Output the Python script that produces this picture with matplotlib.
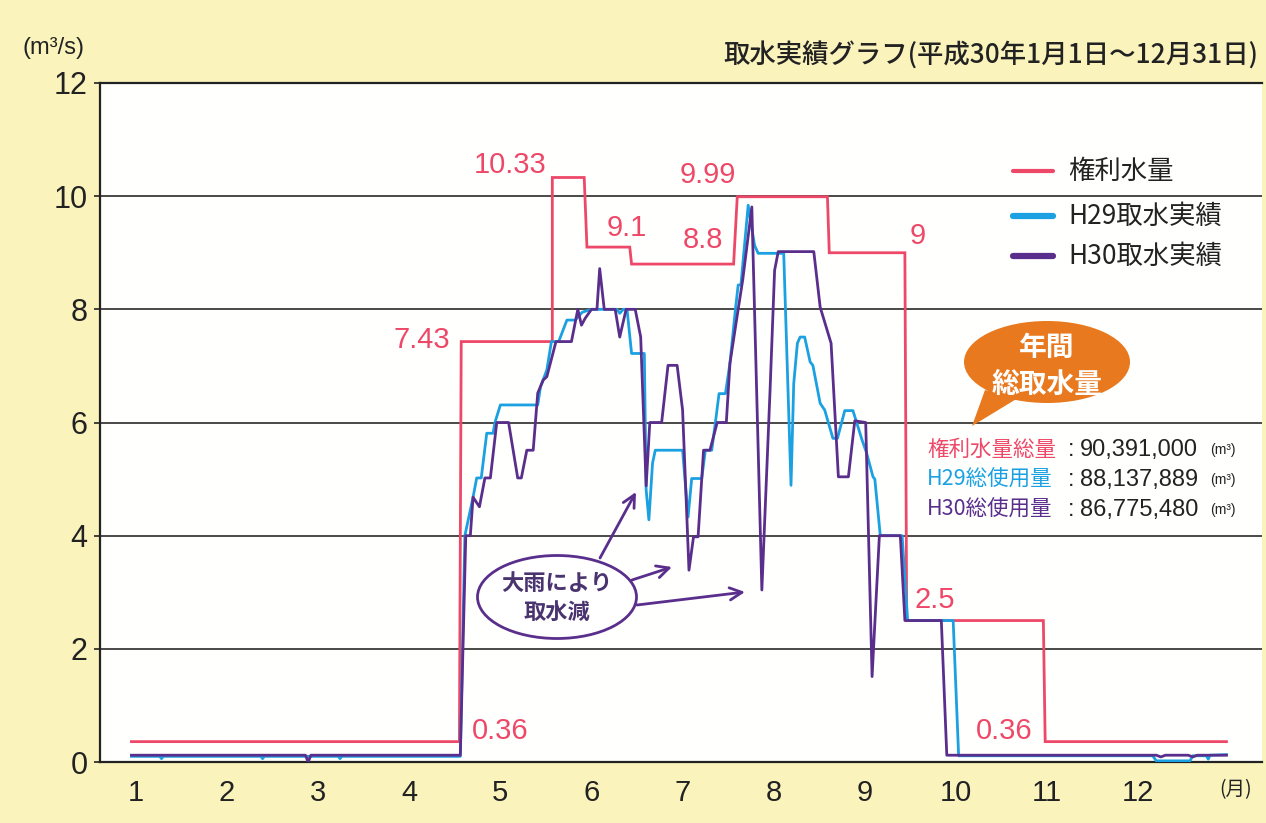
import matplotlib
matplotlib.use("Agg")
import matplotlib.pyplot as plt
from matplotlib.patches import Ellipse, Polygon
from matplotlib.lines import Line2D

# ---------------- data (x in month units: 1 = Jan 1, 13 = end of Dec) ----------------
months = list(range(1, 13))
y_ticks = [0, 2, 4, 6, 8, 10, 12]

rights_x = [0.95, 4.55, 4.57, 5.57, 5.57, 5.92, 5.95, 6.42, 6.44, 7.56, 7.60, 8.59, 8.61, 9.44, 9.46, 10.96, 10.98, 12.97]
rights_y = [0.36, 0.36, 7.43, 7.43, 10.33, 10.33, 9.1, 9.1, 8.8, 8.8, 9.99, 9.99, 9.0, 9.0, 2.5, 2.5, 0.36, 0.36]

h29_x = [0.95, 1.26, 1.28, 1.30, 2.37, 2.39, 2.41, 3.22, 3.24, 3.26, 4.56, 4.61, 4.70, 4.74, 4.79, 4.85, 4.92,
         4.94, 5.00, 5.41, 5.44, 5.51, 5.56, 5.64, 5.73, 5.82, 5.90, 6.00, 6.28, 6.31, 6.35, 6.39, 6.44, 6.58,
         6.60, 6.63, 6.67, 6.70, 7.00, 7.06, 7.10, 7.21, 7.25, 7.32, 7.36, 7.40, 7.47, 7.52, 7.58, 7.61, 7.64,
         7.72, 7.79, 7.83, 8.11, 8.19, 8.22, 8.26, 8.29, 8.34, 8.40, 8.43, 8.51, 8.56, 8.65, 8.70, 8.78, 8.87,
         8.97, 9.02, 9.09, 9.11, 9.17, 9.41, 9.47, 9.97, 10.03, 12.16, 12.20, 12.57, 12.60, 12.75, 12.77, 12.79, 12.97]
h29_y = [0.10, 0.10, 0.06, 0.10, 0.10, 0.06, 0.10, 0.10, 0.06, 0.10, 0.10, 4.0, 4.68, 5.02, 5.02, 5.81, 5.81,
         6.0, 6.31, 6.31, 6.63, 6.93, 7.43, 7.43, 7.81, 7.81, 7.95, 8.0, 8.0, 7.93, 8.0, 8.0, 7.22, 7.22,
         4.81, 4.28, 5.28, 5.51, 5.51, 4.33, 5.01, 5.01, 5.51, 5.51, 6.0, 6.51, 6.51, 7.05, 8.0, 8.43, 8.43,
         9.84, 9.13, 8.99, 8.99, 4.89, 6.69, 7.40, 7.51, 7.51, 7.07, 7.01, 6.34, 6.22, 5.72, 5.72, 6.21, 6.21,
         5.69, 5.46, 5.04, 5.0, 4.0, 4.0, 2.5, 2.5, 0.11, 0.11, 0.02, 0.02, 0.11, 0.11, 0.05, 0.12, 0.13]

h30_x = [0.95, 2.86, 2.89, 2.92, 4.56, 4.62, 4.67, 4.70, 4.77, 4.83, 4.89, 4.96, 5.09, 5.19, 5.23, 5.29, 5.36,
         5.41, 5.47, 5.51, 5.61, 5.78, 5.85, 5.89, 5.93, 6.00, 6.06, 6.09, 6.14, 6.26, 6.31, 6.38, 6.48, 6.54,
         6.60, 6.64, 6.77, 6.84, 6.94, 7.00, 7.07, 7.12, 7.17, 7.23, 7.30, 7.38, 7.48, 7.52, 7.61, 7.66, 7.76,
         7.87, 7.96, 8.01, 8.05, 8.44, 8.51, 8.63, 8.71, 8.82, 8.89, 9.01, 9.08, 9.16, 9.39, 9.44, 9.84, 9.90,
         12.20, 12.25, 12.30, 12.55, 12.60, 12.65, 12.97]
h30_y = [0.12, 0.12, 0.0, 0.12, 0.12, 4.0, 4.0, 4.68, 4.51, 5.02, 5.02, 6.0, 6.0, 5.02, 5.02, 5.51, 5.51,
         6.52, 6.75, 6.81, 7.43, 7.43, 8.0, 7.72, 7.84, 8.0, 8.0, 8.72, 8.0, 8.0, 7.51, 8.0, 8.0, 7.51,
         4.88, 6.0, 6.0, 7.01, 7.01, 6.22, 3.39, 3.98, 3.98, 5.51, 5.51, 6.0, 6.0, 7.05, 8.0, 8.52, 9.81,
         3.04, 6.57, 8.69, 9.02, 9.02, 8.04, 7.40, 5.04, 5.04, 6.03, 6.0, 1.51, 4.0, 4.0, 2.5, 2.5, 0.12,
         0.12, 0.09, 0.12, 0.12, 0.09, 0.12, 0.12]

rights_labels = ["7.43", "10.33", "9.1", "8.8", "9.99", "9", "2.5", "0.36", "0.36"]
rights_label_pos = [(4.14, 7.46), (5.11, 10.55), (6.39, 9.43), (7.22, 9.22), (7.28, 10.37),
                    (9.58, 9.29), (9.77, 2.86), (5.00, 0.55), (10.53, 0.55)]

legend_labels = ["権利水量", "H29取水実績", "H30取水実績"]
total_labels = ["権利水量総量", "H29総使用量", "H30総使用量"]
total_values = ["90,391,000", "88,137,889", "86,775,480"]

title = "取水実績グラフ(平成30年1月1日～12月31日)"

# ---------------- style ----------------
RED = "#EE4868"
BLUE = "#1BA1E2"
PURPLE = "#5A2E8C"
DARK = "#222222"
BG = "#FAF3BC"
ORANGE = "#E8791E"
NUM = ["Liberation Sans", "DejaVu Sans"]
JP = ["Noto Sans CJK JP", "DejaVu Sans"]

W, H = 1266, 823
fig = plt.figure(figsize=(W / 100, H / 100), dpi=100, facecolor=BG)


def fx(px):
    return px / W


def fy(py):
    return 1 - py / H


ax = fig.add_axes([fx(100), fy(762), (1262 - 100) / W, (762 - 83) / H])
ax.set_facecolor("#FFFFFD")
ax.set_xlim(0.605, 13.36)
ax.set_ylim(0, 12)

for v in y_ticks[1:-1]:
    ax.axhline(v, color="#3a3a3a", lw=1.3, zorder=1)

ax.plot(rights_x, rights_y, color=RED, lw=2.0, zorder=3, solid_joinstyle="miter")
ax.plot(h29_x, h29_y, color=BLUE, lw=2.0, zorder=4)
ax.plot(h30_x, h30_y, color=PURPLE, lw=2.0, zorder=5)

for s, (xv, yv) in zip(rights_labels, rights_label_pos):
    ax.text(xv, yv, s, color=RED, fontsize=21, family=NUM, ha="center", va="center", zorder=6)

ax.set_xticks(months)
ax.set_xticklabels([str(m) for m in months], family=NUM, fontsize=21, color=DARK)
ax.set_yticks(y_ticks)
ax.set_yticklabels([str(v) for v in y_ticks], family=NUM, fontsize=22, color=DARK)
ax.tick_params(axis="x", length=0, pad=12)
ax.tick_params(axis="y", length=4, width=1.2, pad=5, color=DARK)
for side in ["left", "bottom", "top"]:
    ax.spines[side].set_color(DARK)
    ax.spines[side].set_linewidth(1.6)
ax.spines["right"].set_visible(False)

# axis unit labels and title
fig.text(fx(22), fy(48), "(m³/s)", family=NUM, fontsize=17, color=DARK, ha="left", va="center")
fig.text(fx(1236), fy(790), "(月)", family=JP, fontsize=14, color=DARK, ha="center", va="center")
fig.text(fx(1258), fy(55), title, family=JP, fontsize=19, weight="medium", color=DARK, ha="right", va="center")

# legend
for (py, col, lw), lab in zip([(171, RED, 3.0), (216, BLUE, 4.5), (256, PURPLE, 4.5)], legend_labels):
    fig.add_artist(Line2D([fx(1013), fx(1053)], [fy(py), fy(py)], color=col, lw=lw,
                          solid_capstyle="round", transform=fig.transFigure))
    fig.text(fx(1068), fy(py), lab, family=JP, fontsize=19, color=DARK, ha="left", va="center")

# orange speech bubble
tail = Polygon([[fx(985), fy(390)], [fx(1018), fy(398)], [fx(972), fy(426)]], closed=True,
               facecolor=ORANGE, edgecolor="none", transform=fig.transFigure)
fig.add_artist(tail)
bub = Ellipse((fx(1047), fy(362)), 166 / W, 82 / H, facecolor=ORANGE, edgecolor="none",
              transform=fig.transFigure)
fig.add_artist(bub)
fig.text(fx(1047), fy(348), "年間", family=JP, fontsize=20, weight="bold", color="white", ha="center", va="center")
fig.text(fx(1047), fy(385), "総取水量", family=JP, fontsize=20, weight="bold", color="white", ha="center", va="center")

# annual totals
for py, lab, col, val in zip([450, 480, 510], total_labels, [RED, BLUE, PURPLE], total_values):
    fig.text(fx(927), fy(py), lab, family=JP, fontsize=15.5, color=col, ha="left", va="center")
    fig.text(fx(1071), fy(py), ":", family=NUM, fontsize=17, color=DARK, ha="center", va="center")
    fig.text(fx(1080), fy(py), val, family=NUM, fontsize=17, color=DARK, ha="left", va="center")
    fig.text(fx(1210), fy(py), "(m³)", family=NUM, fontsize=10, color=DARK, ha="left", va="center")

# heavy rain annotation
rain = Ellipse((fx(557), fy(597)), 159 / W, 83 / H, facecolor="white", edgecolor=PURPLE, lw=2.0,
               transform=fig.transFigure, zorder=10)
fig.add_artist(rain)
fig.text(fx(557), fy(583), "大雨により", family=JP, fontsize=16, weight="bold", color="#4A3470",
         ha="center", va="center", zorder=11)
fig.text(fx(557), fy(612), "取水減", family=JP, fontsize=16, weight="bold", color="#4A3470",
         ha="center", va="center", zorder=11)
for (sx, sy), (tx, ty) in [((600, 558), (636, 492)), ((632, 580), (672, 567)), ((637, 605), (745, 592))]:
    ax.annotate("", xy=(tx, H - ty), xycoords="figure pixels", xytext=(sx, H - sy), textcoords="figure pixels",
                arrowprops=dict(arrowstyle="->", color=PURPLE, lw=2.0, mutation_scale=22,
                                shrinkA=0, shrinkB=0), zorder=9)

fig.savefig("out.png", dpi=100, facecolor=BG)
